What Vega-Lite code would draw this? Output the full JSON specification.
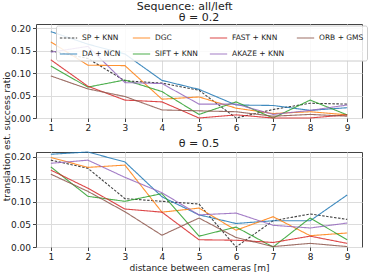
{
  "$schema": "https://vega.github.io/schema/vega-lite/v6.json",
  "padding": {"left": 1, "top": 0, "right": 2, "bottom": 2},
  "bounds": "flush",
  "spacing": 34,
  "title": {"text": "Sequence: all/left", "fontSize": 11, "fontWeight": "normal", "font": "DejaVu Sans", "color": "#222", "anchor": "middle", "offset": 0},
  "config": {
    "font": "DejaVu Sans",
    "view": {"stroke": "#444", "strokeWidth": 1},
    "axis": {"labelFont": "DejaVu Sans", "labelFontSize": 9, "labelColor": "#222", "titleFont": "DejaVu Sans", "titleFontSize": 9, "titleFontWeight": "normal", "titleColor": "#222", "gridColor": "#dcdcdc", "gridWidth": 1, "tickColor": "#444", "tickSize": 3.5, "domain": false, "labelPadding": 2},
    "title": {"fontSize": 11, "fontWeight": "normal", "font": "DejaVu Sans", "color": "#222", "offset": 1}
  },
  "datasets": {
    "d": [
      {"theta": "0.2", "method": "SP + KNN", "x": 1, "y": 0.150}, {"theta": "0.2", "method": "SP + KNN", "x": 2, "y": 0.133}, {"theta": "0.2", "method": "SP + KNN", "x": 3, "y": 0.083}, {"theta": "0.2", "method": "SP + KNN", "x": 4, "y": 0.078}, {"theta": "0.2", "method": "SP + KNN", "x": 5, "y": 0.062}, {"theta": "0.2", "method": "SP + KNN", "x": 6, "y": 0.0}, {"theta": "0.2", "method": "SP + KNN", "x": 7, "y": 0.019}, {"theta": "0.2", "method": "SP + KNN", "x": 8, "y": 0.033}, {"theta": "0.2", "method": "SP + KNN", "x": 9, "y": 0.031},
      {"theta": "0.2", "method": "DA + NCN", "x": 1, "y": 0.193}, {"theta": "0.2", "method": "DA + NCN", "x": 2, "y": 0.165}, {"theta": "0.2", "method": "DA + NCN", "x": 3, "y": 0.143}, {"theta": "0.2", "method": "DA + NCN", "x": 4, "y": 0.084}, {"theta": "0.2", "method": "DA + NCN", "x": 5, "y": 0.064}, {"theta": "0.2", "method": "DA + NCN", "x": 6, "y": 0.029}, {"theta": "0.2", "method": "DA + NCN", "x": 7, "y": 0.028}, {"theta": "0.2", "method": "DA + NCN", "x": 8, "y": 0.017}, {"theta": "0.2", "method": "DA + NCN", "x": 9, "y": 0.023},
      {"theta": "0.2", "method": "DGC", "x": 1, "y": 0.170}, {"theta": "0.2", "method": "DGC", "x": 2, "y": 0.118}, {"theta": "0.2", "method": "DGC", "x": 3, "y": 0.117}, {"theta": "0.2", "method": "DGC", "x": 4, "y": 0.042}, {"theta": "0.2", "method": "DGC", "x": 5, "y": 0.047}, {"theta": "0.2", "method": "DGC", "x": 6, "y": 0.022}, {"theta": "0.2", "method": "DGC", "x": 7, "y": 0.010}, {"theta": "0.2", "method": "DGC", "x": 8, "y": 0.014}, {"theta": "0.2", "method": "DGC", "x": 9, "y": 0.007},
      {"theta": "0.2", "method": "SIFT + KNN", "x": 1, "y": 0.116}, {"theta": "0.2", "method": "SIFT + KNN", "x": 2, "y": 0.069}, {"theta": "0.2", "method": "SIFT + KNN", "x": 3, "y": 0.085}, {"theta": "0.2", "method": "SIFT + KNN", "x": 4, "y": 0.059}, {"theta": "0.2", "method": "SIFT + KNN", "x": 5, "y": 0.008}, {"theta": "0.2", "method": "SIFT + KNN", "x": 6, "y": 0.036}, {"theta": "0.2", "method": "SIFT + KNN", "x": 7, "y": 0.0}, {"theta": "0.2", "method": "SIFT + KNN", "x": 8, "y": 0.040}, {"theta": "0.2", "method": "SIFT + KNN", "x": 9, "y": 0.007},
      {"theta": "0.2", "method": "FAST + KNN", "x": 1, "y": 0.130}, {"theta": "0.2", "method": "FAST + KNN", "x": 2, "y": 0.071}, {"theta": "0.2", "method": "FAST + KNN", "x": 3, "y": 0.040}, {"theta": "0.2", "method": "FAST + KNN", "x": 4, "y": 0.036}, {"theta": "0.2", "method": "FAST + KNN", "x": 5, "y": 0.0}, {"theta": "0.2", "method": "FAST + KNN", "x": 6, "y": 0.007}, {"theta": "0.2", "method": "FAST + KNN", "x": 7, "y": 0.0}, {"theta": "0.2", "method": "FAST + KNN", "x": 8, "y": 0.0}, {"theta": "0.2", "method": "FAST + KNN", "x": 9, "y": 0.007},
      {"theta": "0.2", "method": "AKAZE + KNN", "x": 1, "y": 0.147}, {"theta": "0.2", "method": "AKAZE + KNN", "x": 2, "y": 0.160}, {"theta": "0.2", "method": "AKAZE + KNN", "x": 3, "y": 0.079}, {"theta": "0.2", "method": "AKAZE + KNN", "x": 4, "y": 0.077}, {"theta": "0.2", "method": "AKAZE + KNN", "x": 5, "y": 0.031}, {"theta": "0.2", "method": "AKAZE + KNN", "x": 6, "y": 0.031}, {"theta": "0.2", "method": "AKAZE + KNN", "x": 7, "y": 0.008}, {"theta": "0.2", "method": "AKAZE + KNN", "x": 8, "y": 0.017}, {"theta": "0.2", "method": "AKAZE + KNN", "x": 9, "y": 0.029},
      {"theta": "0.2", "method": "ORB + GMS", "x": 1, "y": 0.094}, {"theta": "0.2", "method": "ORB + GMS", "x": 2, "y": 0.065}, {"theta": "0.2", "method": "ORB + GMS", "x": 3, "y": 0.048}, {"theta": "0.2", "method": "ORB + GMS", "x": 4, "y": 0.018}, {"theta": "0.2", "method": "ORB + GMS", "x": 5, "y": 0.016}, {"theta": "0.2", "method": "ORB + GMS", "x": 6, "y": 0.014}, {"theta": "0.2", "method": "ORB + GMS", "x": 7, "y": 0.004}, {"theta": "0.2", "method": "ORB + GMS", "x": 8, "y": 0.008}, {"theta": "0.2", "method": "ORB + GMS", "x": 9, "y": 0.004},
      {"theta": "0.5", "method": "SP + KNN", "x": 1, "y": 0.192}, {"theta": "0.5", "method": "SP + KNN", "x": 2, "y": 0.174}, {"theta": "0.5", "method": "SP + KNN", "x": 3, "y": 0.107}, {"theta": "0.5", "method": "SP + KNN", "x": 4, "y": 0.101}, {"theta": "0.5", "method": "SP + KNN", "x": 5, "y": 0.095}, {"theta": "0.5", "method": "SP + KNN", "x": 6, "y": 0.0}, {"theta": "0.5", "method": "SP + KNN", "x": 7, "y": 0.058}, {"theta": "0.5", "method": "SP + KNN", "x": 8, "y": 0.073}, {"theta": "0.5", "method": "SP + KNN", "x": 9, "y": 0.061},
      {"theta": "0.5", "method": "DA + NCN", "x": 1, "y": 0.205}, {"theta": "0.5", "method": "DA + NCN", "x": 2, "y": 0.210}, {"theta": "0.5", "method": "DA + NCN", "x": 3, "y": 0.188}, {"theta": "0.5", "method": "DA + NCN", "x": 4, "y": 0.111}, {"theta": "0.5", "method": "DA + NCN", "x": 5, "y": 0.071}, {"theta": "0.5", "method": "DA + NCN", "x": 6, "y": 0.052}, {"theta": "0.5", "method": "DA + NCN", "x": 7, "y": 0.058}, {"theta": "0.5", "method": "DA + NCN", "x": 8, "y": 0.058}, {"theta": "0.5", "method": "DA + NCN", "x": 9, "y": 0.115},
      {"theta": "0.5", "method": "DGC", "x": 1, "y": 0.198}, {"theta": "0.5", "method": "DGC", "x": 2, "y": 0.176}, {"theta": "0.5", "method": "DGC", "x": 3, "y": 0.181}, {"theta": "0.5", "method": "DGC", "x": 4, "y": 0.077}, {"theta": "0.5", "method": "DGC", "x": 5, "y": 0.086}, {"theta": "0.5", "method": "DGC", "x": 6, "y": 0.037}, {"theta": "0.5", "method": "DGC", "x": 7, "y": 0.067}, {"theta": "0.5", "method": "DGC", "x": 8, "y": 0.025}, {"theta": "0.5", "method": "DGC", "x": 9, "y": 0.031},
      {"theta": "0.5", "method": "SIFT + KNN", "x": 1, "y": 0.177}, {"theta": "0.5", "method": "SIFT + KNN", "x": 2, "y": 0.112}, {"theta": "0.5", "method": "SIFT + KNN", "x": 3, "y": 0.101}, {"theta": "0.5", "method": "SIFT + KNN", "x": 4, "y": 0.118}, {"theta": "0.5", "method": "SIFT + KNN", "x": 5, "y": 0.024}, {"theta": "0.5", "method": "SIFT + KNN", "x": 6, "y": 0.044}, {"theta": "0.5", "method": "SIFT + KNN", "x": 7, "y": 0.0}, {"theta": "0.5", "method": "SIFT + KNN", "x": 8, "y": 0.064}, {"theta": "0.5", "method": "SIFT + KNN", "x": 9, "y": 0.016},
      {"theta": "0.5", "method": "FAST + KNN", "x": 1, "y": 0.170}, {"theta": "0.5", "method": "FAST + KNN", "x": 2, "y": 0.130}, {"theta": "0.5", "method": "FAST + KNN", "x": 3, "y": 0.084}, {"theta": "0.5", "method": "FAST + KNN", "x": 4, "y": 0.077}, {"theta": "0.5", "method": "FAST + KNN", "x": 5, "y": 0.016}, {"theta": "0.5", "method": "FAST + KNN", "x": 6, "y": 0.015}, {"theta": "0.5", "method": "FAST + KNN", "x": 7, "y": 0.010}, {"theta": "0.5", "method": "FAST + KNN", "x": 8, "y": 0.024}, {"theta": "0.5", "method": "FAST + KNN", "x": 9, "y": 0.008},
      {"theta": "0.5", "method": "AKAZE + KNN", "x": 1, "y": 0.185}, {"theta": "0.5", "method": "AKAZE + KNN", "x": 2, "y": 0.192}, {"theta": "0.5", "method": "AKAZE + KNN", "x": 3, "y": 0.154}, {"theta": "0.5", "method": "AKAZE + KNN", "x": 4, "y": 0.120}, {"theta": "0.5", "method": "AKAZE + KNN", "x": 5, "y": 0.071}, {"theta": "0.5", "method": "AKAZE + KNN", "x": 6, "y": 0.075}, {"theta": "0.5", "method": "AKAZE + KNN", "x": 7, "y": 0.048}, {"theta": "0.5", "method": "AKAZE + KNN", "x": 8, "y": 0.042}, {"theta": "0.5", "method": "AKAZE + KNN", "x": 9, "y": 0.053},
      {"theta": "0.5", "method": "ORB + GMS", "x": 1, "y": 0.161}, {"theta": "0.5", "method": "ORB + GMS", "x": 2, "y": 0.123}, {"theta": "0.5", "method": "ORB + GMS", "x": 3, "y": 0.078}, {"theta": "0.5", "method": "ORB + GMS", "x": 4, "y": 0.026}, {"theta": "0.5", "method": "ORB + GMS", "x": 5, "y": 0.064}, {"theta": "0.5", "method": "ORB + GMS", "x": 6, "y": 0.021}, {"theta": "0.5", "method": "ORB + GMS", "x": 7, "y": 0.001}, {"theta": "0.5", "method": "ORB + GMS", "x": 8, "y": 0.008}, {"theta": "0.5", "method": "ORB + GMS", "x": 9, "y": 0.001}
    ]
  },
  "resolve": {"legend": {"color": "independent", "strokeDash": "independent"}},
  "vconcat": [
    {
      "width": 326, "height": 94,
      "title": {"text": "θ = 0.2"},
      "data": {"name": "d"},
      "transform": [{"filter": "datum.theta == '0.2'"}],
      "mark": {"type": "line", "strokeWidth": 1.1, "opacity": 0.85},
      "encoding": {
        "x": {"field": "x", "type": "quantitative", "scale": {"domain": [0.6, 9.4], "nice": false, "zero": false}, "axis": {"values": [1,2,3,4,5,6,7,8,9], "title": null, "format": "d"}},
        "y": {"field": "y", "type": "quantitative", "scale": {"domain": [0, 0.21], "nice": false}, "axis": {"values": [0, 0.05, 0.1, 0.15, 0.2], "format": ".2f", "title": "translation est. success ratio", "titleX": -25, "titleY": 112}},
        "color": {"field": "method", "type": "nominal", "scale": {"domain": ["SP + KNN", "DA + NCN", "DGC", "SIFT + KNN", "FAST + KNN", "AKAZE + KNN", "ORB + GMS"], "range": ["#222222", "#1f77b4", "#ff7f0e", "#2ca02c", "#d62728", "#9467bd", "#8c564b"]},
          "legend": {"title": null, "orient": "none", "legendX": 20, "legendY": 1.5, "columns": 4, "gridAlign": "each", "columnPadding": 9, "rowPadding": 3, "symbolType": "stroke", "symbolSize": 300, "symbolStrokeWidth": 1.2, "labelFontSize": 7.5, "labelFont": "DejaVu Sans", "labelColor": "#222", "labelOffset": 4, "fillColor": "rgba(255,255,255,0.85)", "strokeColor": "#cccccc", "cornerRadius": 2, "padding": 3}},
        "strokeDash": {"field": "method", "type": "nominal", "scale": {"domain": ["SP + KNN", "DA + NCN", "DGC", "SIFT + KNN", "FAST + KNN", "AKAZE + KNN", "ORB + GMS"], "range": [[2.5, 1.5], [1, 0], [1, 0], [1, 0], [1, 0], [1, 0], [1, 0]]},
          "legend": {"title": null, "orient": "none", "legendX": 20, "legendY": 1.5, "columns": 4, "gridAlign": "each", "columnPadding": 9, "rowPadding": 3, "symbolType": "stroke", "symbolSize": 300, "symbolStrokeWidth": 1.2, "labelFontSize": 7.5, "labelFont": "DejaVu Sans", "labelColor": "#222", "labelOffset": 4, "fillColor": "rgba(255,255,255,0.85)", "strokeColor": "#cccccc", "cornerRadius": 2, "padding": 3}}
      }
    },
    {
      "width": 326, "height": 95,
      "title": {"text": "θ = 0.5"},
      "data": {"name": "d"},
      "transform": [{"filter": "datum.theta == '0.5'"}],
      "mark": {"type": "line", "strokeWidth": 1.1, "opacity": 0.85},
      "encoding": {
        "x": {"field": "x", "type": "quantitative", "scale": {"domain": [0.6, 9.4], "nice": false, "zero": false}, "axis": {"values": [1,2,3,4,5,6,7,8,9], "title": "distance between cameras [m]", "format": "d", "titlePadding": 2}},
        "y": {"field": "y", "type": "quantitative", "scale": {"domain": [0, 0.21], "nice": false}, "axis": {"values": [0, 0.05, 0.1, 0.15, 0.2], "format": ".2f", "title": null}},
        "color": {"field": "method", "type": "nominal", "scale": {"domain": ["SP + KNN", "DA + NCN", "DGC", "SIFT + KNN", "FAST + KNN", "AKAZE + KNN", "ORB + GMS"], "range": ["#222222", "#1f77b4", "#ff7f0e", "#2ca02c", "#d62728", "#9467bd", "#8c564b"]}, "legend": null},
        "strokeDash": {"field": "method", "type": "nominal", "scale": {"domain": ["SP + KNN", "DA + NCN", "DGC", "SIFT + KNN", "FAST + KNN", "AKAZE + KNN", "ORB + GMS"], "range": [[2.5, 1.5], [1, 0], [1, 0], [1, 0], [1, 0], [1, 0], [1, 0]]}, "legend": null}
      }
    }
  ]
}
